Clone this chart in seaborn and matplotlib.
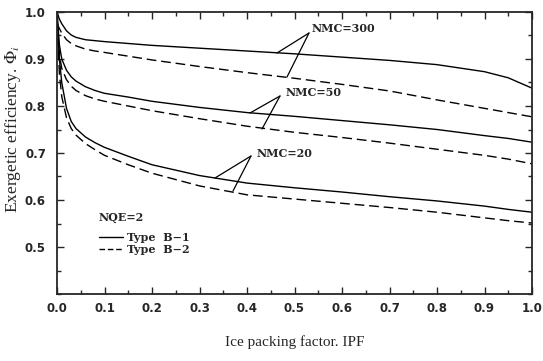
import numpy as np
import pandas as pd
import matplotlib
matplotlib.use("Agg")
import matplotlib.pyplot as plt
from matplotlib.lines import Line2D
from matplotlib.ticker import MultipleLocator, FixedLocator, FormatStrFormatter
import seaborn as sns

# ---- data ----
ipf = [0.0, 0.005, 0.01, 0.02, 0.03, 0.04, 0.06, 0.08, 0.1, 0.15, 0.2, 0.3, 0.4, 0.5,
       0.6, 0.7, 0.8, 0.9, 0.95, 1.0]

nmc300_b1 = [1.0, 0.985, 0.975, 0.960, 0.951, 0.946, 0.941, 0.939, 0.937, 0.933, 0.929, 0.923,
             0.917, 0.911, 0.904, 0.897, 0.888, 0.873, 0.860, 0.838]
nmc300_b2 = [0.975, 0.965, 0.955, 0.941, 0.933, 0.928, 0.921, 0.917, 0.914, 0.906, 0.898, 0.884,
             0.871, 0.859, 0.846, 0.832, 0.813, 0.795, 0.786, 0.777]
nmc50_b1 = [1.0, 0.93, 0.90, 0.876, 0.862, 0.853, 0.841, 0.833, 0.827, 0.819, 0.810, 0.797,
            0.786, 0.778, 0.769, 0.760, 0.750, 0.737, 0.731, 0.723]
nmc50_b2 = [0.99, 0.91, 0.88, 0.856, 0.842, 0.833, 0.822, 0.815, 0.810, 0.800, 0.790, 0.773,
            0.757, 0.744, 0.733, 0.721, 0.708, 0.695, 0.687, 0.677]
nmc20_b1 = [1.0, 0.90, 0.85, 0.795, 0.767, 0.752, 0.734, 0.722, 0.712, 0.693, 0.675, 0.652,
            0.636, 0.626, 0.617, 0.607, 0.598, 0.587, 0.580, 0.574]
nmc20_b2 = [0.98, 0.87, 0.82, 0.775, 0.752, 0.738, 0.720, 0.707, 0.695, 0.675, 0.657, 0.630,
            0.611, 0.602, 0.593, 0.584, 0.574, 0.562, 0.556, 0.551]

x_ticks = [0.0, 0.1, 0.2, 0.3, 0.4, 0.5, 0.6, 0.7, 0.8, 0.9, 1.0]
y_ticks = [0.5, 0.6, 0.7, 0.8, 0.9, 1.0]

series = {
    ("NMC=300", "Type B-1"): nmc300_b1,
    ("NMC=300", "Type B-2"): nmc300_b2,
    ("NMC=50", "Type B-1"): nmc50_b1,
    ("NMC=50", "Type B-2"): nmc50_b2,
    ("NMC=20", "Type B-1"): nmc20_b1,
    ("NMC=20", "Type B-2"): nmc20_b2,
}

rows = []
for (nmc, typ), vals in series.items():
    for x, y in zip(ipf, vals):
        rows.append({"IPF": x, "phi": y, "NMC": nmc, "Type": typ})
df = pd.DataFrame(rows)

sns.set_style("ticks")
plt.rcParams["font.family"] = ["DejaVu Sans"]
plt.rcParams["mathtext.fontset"] = "stix"

fig = plt.figure(figsize=(5.43, 3.61), dpi=100)
ax = fig.add_axes([57 / 543, 1 - 294 / 361, (532 - 57) / 543, (294 - 12) / 361])

sns.lineplot(data=df, x="IPF", y="phi", units="NMC", estimator=None,
             style="Type", dashes={"Type B-1": "", "Type B-2": (7, 3.5)},
             color="black", linewidth=1.0, legend=False, ax=ax)

ax.set_xlim(0, 1.0)
ax.set_ylim(0.4, 1.0)
ax.xaxis.set_major_locator(FixedLocator(x_ticks))
ax.xaxis.set_minor_locator(MultipleLocator(0.05))
ax.yaxis.set_major_locator(FixedLocator(y_ticks))
ax.yaxis.set_minor_locator(MultipleLocator(0.05))
ax.xaxis.set_major_formatter(FormatStrFormatter("%.1f"))
ax.yaxis.set_major_formatter(FormatStrFormatter("%.1f"))
ax.tick_params(which="both", direction="in", top=True, right=True,
               width=1.0, labelsize=8.5, pad=6)
ax.tick_params(axis="y", pad=8)
ax.tick_params(which="major", length=5)
ax.tick_params(which="minor", length=3)
for lab in ax.get_xticklabels() + ax.get_yticklabels():
    lab.set_fontweight("bold")
for s in ax.spines.values():
    s.set_linewidth(1.3)
    s.set_visible(True)

ax.set_xlabel("Ice packing factor. IPF", family="Liberation Serif", fontsize=11, labelpad=14)
ax.set_ylabel(r"Exergetic efficiency. $\mathit{\Phi}_{i}$",
              family="Liberation Serif", fontsize=12.5)
ax.yaxis.set_label_coords(-0.072, 0.585)

# annotations (px -> data)
def d(px, py):
    return ((px - 57) / 475, 1 - (py - 12) * 0.6 / 282)

labels = [
    ("NMC=300", (312, 28), (309, 33), (277, 53), (287, 77)),
    ("NMC=50", (286, 93), (280, 96), (250, 113), (262, 129)),
    ("NMC=20", (257, 153), (251, 156), (215, 178), (233, 191)),
]
for text, tpos, apex, p1, p2 in labels:
    ax.text(*d(*tpos), text, ha="left", va="center", fontsize=8,
            fontweight="bold", family="DejaVu Serif")
    for p in (p1, p2):
        ax.annotate("", xy=d(*p), xytext=d(*apex),
                    arrowprops=dict(arrowstyle="-", lw=0.9, color="black",
                                    shrinkA=0, shrinkB=0))

handles = [Line2D([], [], color="black", lw=1.0, ls="-"),
           Line2D([], [], color="black", lw=1.0, ls=(0, (4, 2)))]
leg = ax.legend(handles, ["Type  B\u22121", "Type  B\u22122"], title="NQE=2",
                loc="upper left", bbox_to_anchor=d(99, 212), frameon=False,
                handlelength=2.2, handletextpad=0.3, labelspacing=0.15,
                prop={"size": 8, "weight": "bold", "family": "DejaVu Serif"},
                title_fontproperties={"size": 8, "weight": "bold", "family": "DejaVu Serif"},
                borderaxespad=0, borderpad=0, bbox_transform=ax.transData)
leg._legend_box.align = "left"
leg._legend_box.sep = 6

fig.savefig("out.png", dpi=100)
